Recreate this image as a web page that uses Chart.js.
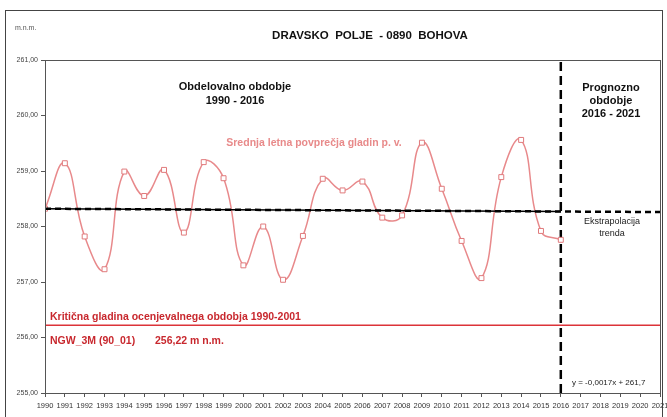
<!DOCTYPE html>
<html>
<head>
<meta charset="utf-8">
<script src="https://cdn.jsdelivr.net/npm/chart.js@4"></script>
<style>
  html, body { margin: 0; padding: 0; background: #fff; }
  #wrap { width: 667px; height: 417px; }
</style>
</head>
<body>
<div id="wrap"><canvas id="bohovaChart" width="667" height="417"></canvas></div>
<script>
// Srednja letna povprečja gladin p. v. (m n.m.)
const years = [1990, 1991, 1992, 1993, 1994, 1995, 1996, 1997, 1998, 1999, 2000, 2001, 2002, 2003,
  2004, 2005, 2006, 2007, 2008, 2009, 2010, 2011, 2012, 2013, 2014, 2015, 2016];
const levels = [258.32, 259.14, 257.82, 257.23, 258.99, 258.55, 259.02, 257.89, 259.16, 258.87, 257.30,
  258.00, 257.04, 257.83, 258.86, 258.65, 258.81, 258.16, 258.20, 259.51, 258.68, 257.74, 257.07,
  258.89, 259.56, 257.92, 257.76];

// trend (y = -0,0017x + 261,7), odčitano na robovih
const trendYears = [1990, 2016, 2021];
const trendValues = [258.32, 258.27, 258.26];

// kritična gladina NGW_3M (90_01)
const criticalLevel = 256.22;
const forecastStart = 2016;
const yTicks = [255, 256, 257, 258, 259, 260, 261];
const xRange = [1990, 2021];

const FONT = 'Arial, "Liberation Sans", sans-serif';
const pts = (xs, ys) => xs.map((x, i) => ({ x: x, y: ys[i] }));

const annotations = {
  id: 'annotations',
  beforeDraw(chart) {
    const ctx = chart.ctx;
    ctx.save();
    ctx.fillStyle = '#fff';
    ctx.fillRect(0, 0, chart.width, chart.height);
    ctx.strokeStyle = '#444';
    ctx.lineWidth = 1;
    ctx.strokeRect(5.5, 10.5, 657, 420);
    ctx.restore();
  },
  afterDraw(chart) {
    const ctx = chart.ctx;
    const a = chart.chartArea;
    ctx.save();
    // okvir risalne površine
    ctx.strokeStyle = '#555';
    ctx.lineWidth = 1;
    ctx.strokeRect(a.left + 0.5, a.top + 0.5, a.right - a.left, a.bottom - a.top);

    ctx.textBaseline = 'middle';
    ctx.fillStyle = '#555';
    ctx.font = '7px ' + FONT;
    ctx.textAlign = 'left';
    ctx.fillText('m.n.m.', 15, 28);

    ctx.fillStyle = '#111';
    ctx.font = 'bold 11.5px ' + FONT;
    ctx.textAlign = 'center';
    ctx.fillText('DRAVSKO  POLJE  - 0890  BOHOVA', 370, 36);

    ctx.font = 'bold 11px ' + FONT;
    ctx.fillText('Obdelovalno obdobje', 235, 87);
    ctx.fillText('1990 - 2016', 235, 101);
    ctx.fillText('Prognozno', 611, 88);
    ctx.fillText('obdobje', 611, 101);
    ctx.fillText('2016 - 2021', 611, 114);

    ctx.fillStyle = '#e88a8a';
    ctx.font = 'bold 10.5px ' + FONT;
    ctx.fillText('Srednja letna povprečja gladin p. v.', 314, 143);

    ctx.fillStyle = '#222';
    ctx.font = '9px ' + FONT;
    ctx.fillText('Ekstrapolacija', 612, 222);
    ctx.fillText('trenda', 612, 234);

    ctx.font = '8px ' + FONT;
    ctx.textAlign = 'left';
    ctx.fillText('y = -0,0017x + 261,7', 572, 383);

    ctx.fillStyle = '#c8282e';
    ctx.font = 'bold 10.5px ' + FONT;
    ctx.fillText('Kritična gladina ocenjevalnega obdobja 1990-2001', 50, 317);
    ctx.fillText('NGW_3M (90_01)', 50, 341);
    ctx.fillText('256,22 m n.m.', 155, 341);
    ctx.restore();
  }
};

const ctx = document.getElementById('bohovaChart').getContext('2d');
const bohovaChart = new Chart(ctx, {
  type: 'scatter',
  data: {
    datasets: [
      {
        label: 'Kritična gladina',
        data: pts(xRange, [criticalLevel, criticalLevel]),
        showLine: true,
        borderColor: '#dc3339',
        borderWidth: 1.5,
        pointRadius: 0
      },
      {
        label: 'Trend (polna)',
        data: pts(trendYears.slice(0, 2), trendValues.slice(0, 2)),
        showLine: true,
        borderColor: '#000',
        borderWidth: 1.5,
        pointRadius: 0
      },
      {
        label: 'Trend',
        data: pts(trendYears, trendValues),
        showLine: true,
        borderColor: '#000',
        borderWidth: 2.5,
        borderDash: [6, 4],
        pointRadius: 0
      },
      {
        label: 'Srednja letna povprečja gladin p. v.',
        data: pts(years, levels),
        showLine: true,
        borderColor: '#e8898b',
        borderWidth: 1.5,
        tension: 0.45,
        pointStyle: 'rect',
        pointRadius: 3.5,
        pointBorderWidth: 1,
        pointBorderColor: '#e07a7c',
        pointBackgroundColor: '#fff'
      },
      {
        label: 'Meja prognoze',
        data: pts([forecastStart, forecastStart], [yTicks[0], yTicks[yTicks.length - 1]]),
        showLine: true,
        borderColor: '#000',
        borderWidth: 2.5,
        borderDash: [9, 5],
        pointRadius: 0
      }
    ]
  },
  options: {
    responsive: false,
    animation: false,
    layout: { padding: { top: 60, right: 7, left: 0, bottom: 0 } },
    plugins: {
      legend: { display: false },
      title: { display: false },
      tooltip: { enabled: false }
    },
    scales: {
      x: {
        type: 'linear',
        min: xRange[0],
        max: xRange[1],
        afterFit(scale) {
          scale.height = 24;
          scale.paddingLeft = 0;
          scale.paddingRight = 0;
        },
        afterBuildTicks(scale) {
          const t = [];
          for (let y = xRange[0]; y <= xRange[1]; y++) t.push({ value: y });
          scale.ticks = t;
        },
        ticks: {
          callback: v => String(v),
          font: { family: FONT, size: 7.5 },
          color: '#333',
          maxRotation: 0,
          autoSkip: false,
          padding: 4
        },
        grid: { drawOnChartArea: false, drawTicks: true, tickLength: 4, color: '#555' },
        border: { display: true, color: '#555' }
      },
      y: {
        min: yTicks[0],
        max: yTicks[yTicks.length - 1],
        afterFit(scale) {
          scale.width = 45;
          scale.paddingTop = 0;
          scale.paddingBottom = 0;
        },
        afterBuildTicks(scale) {
          scale.ticks = yTicks.map(v => ({ value: v }));
        },
        ticks: {
          callback: v => v.toFixed(2).replace('.', ','),
          font: { family: FONT, size: 7 },
          color: '#444',
          padding: 3
        },
        grid: { drawOnChartArea: false, drawTicks: true, tickLength: 4, color: '#555' },
        border: { display: true, color: '#555' }
      }
    }
  },
  plugins: [annotations]
});
</script>
</body>
</html>
